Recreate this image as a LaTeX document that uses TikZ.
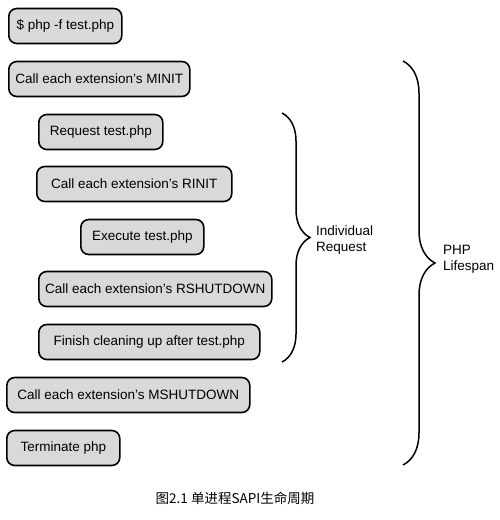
\documentclass[tikz,border=0pt]{standalone}
\usepackage{fontspec}
\setmainfont{Liberation Sans}
\newfontfamily\cjk{Noto Sans CJK SC}
\usetikzlibrary{decorations.pathreplacing}

\tikzset{
  stage/.style={draw=black, line width=1.6pt, rounded corners=8pt, fill=gray!30,
    anchor=west, minimum height=35pt, minimum width=#1, inner xsep=5pt,
    font=\fontsize{13.5}{16}\selectfont},
  span/.style={draw=black, line width=1.5pt, decorate, decoration={brace, amplitude=#1}},
  spanlabel/.style={anchor=west, align=left, inner sep=0pt,
    font=\fontsize{13.5}{16}\selectfont}
}

\begin{document}
\begin{tikzpicture}[x=1pt, y=-1pt]
\useasboundingbox (0,0) rectangle (500,520);
% process level
\node[stage=113pt] (cmd)       at (8,26)   {\$ php -f test.php};
\node[stage=181pt] (minit)     at (8,79)   {Call each extension's MINIT};
% one request
\node[stage=124pt] (request)   at (38,132) {Request test.php};
\node[stage=195pt] (rinit)     at (36,184) {Call each extension's RINIT};
\node[stage=123pt] (execute)   at (80,237) {Execute test.php};
\node[stage=233pt] (rshutdown) at (38,289) {Call each extension's RSHUTDOWN};
\node[stage=221pt] (finish)    at (38,342) {Finish cleaning up after test.php};
% back to process level
\node[stage=243pt] (mshutdown) at (6,395)  {Call each extension's MSHUTDOWN};
\node[stage=113pt] (terminate) at (6,448)  {Terminate php};
% braces
\coordinate (reqtop) at (282,113);
\coordinate (reqbot) at (282,362);
\coordinate (lifetop) at (403,61);
\coordinate (lifebot) at (403,465);
\draw[span=28pt] (reqtop) -- (reqbot);
\draw[span=32pt] (lifetop) -- (lifebot);
\node[spanlabel] (reqlabel)  at (316,240) {Individual\\Request};
\node[spanlabel] (lifelabel) at (443,259) {PHP\\Lifespan};
% caption
\node[font=\cjk\fontsize{13.5}{16}\selectfont] (caption) at (235,498) {图2.1 单进程SAPI生命周期};
\end{tikzpicture}
\end{document}
